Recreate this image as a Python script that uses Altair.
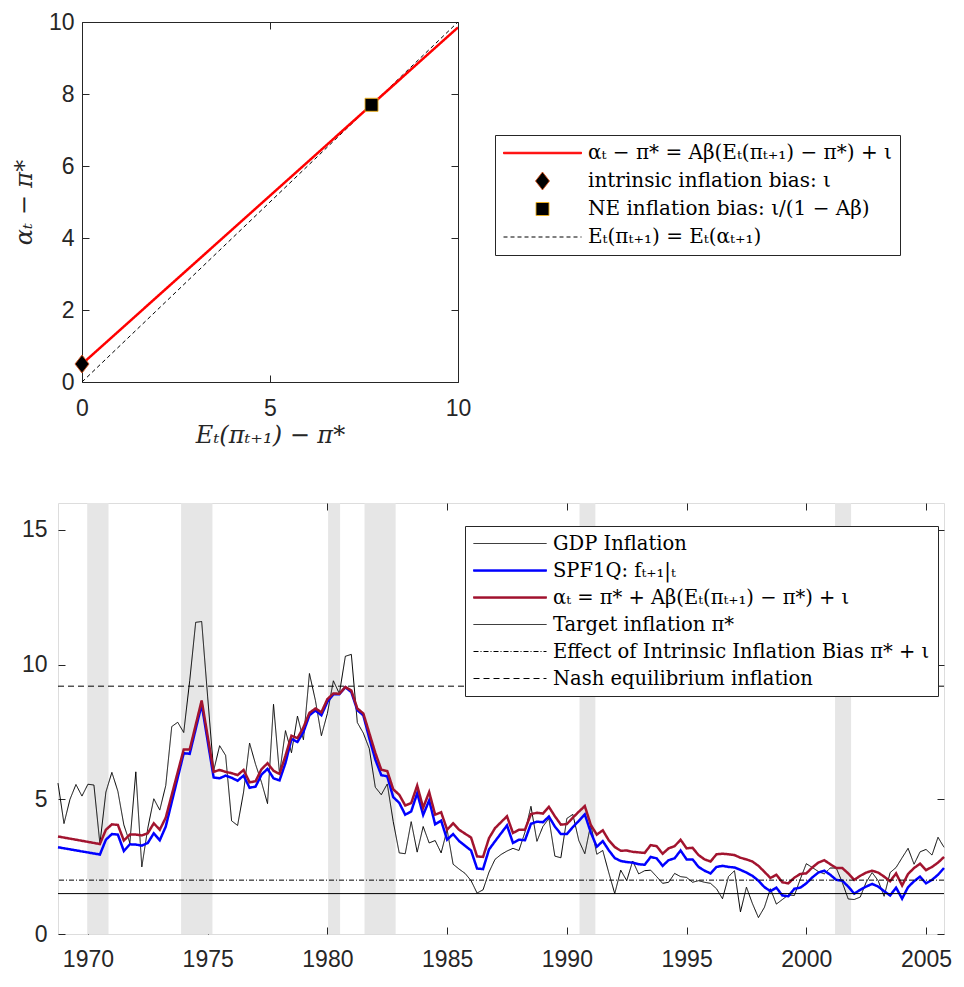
import altair as alt
import pandas as pd

# ---------------- top panel data ----------------
top_series = [
    "αₜ − π* = Aβ(Eₜ(πₜ₊₁) − π*) + ι",
    "intrinsic inflation bias: ι",
    "NE inflation bias: ι/(1 − Aβ)",
    "Eₜ(πₜ₊₁) = Eₜ(αₜ₊₁)",
]
bias_line_x = [0.0, 10.0]
bias_line_y = [0.5, 9.85]
diag_x = [0.0, 10.0]
diag_y = [0.0, 10.0]
marker_x = [0.0, 7.7]
marker_y = [0.5, 7.7]
top_x_ticks = [0, 5, 10]
top_y_ticks = [0, 2, 4, 6, 8, 10]

# ---------------- bottom panel data ----------------
bottom_series = [
    "GDP Inflation",
    "SPF1Q: fₜ₊₁|ₜ",
    "αₜ = π* + Aβ(Eₜ(πₜ₊₁) − π*) + ι",
    "Target inflation π*",
    "Effect of Intrinsic Inflation Bias π* + ι",
    "Nash equilibrium inflation",
]
gdp_start = 1968.75
gdp_values = [
    5.6,
    4.1, 5.0, 5.55, 5.12,       # 1969
    5.56, 5.53, 3.35, 5.27,     # 1970
    6.0, 5.3, 4.05, 3.38,       # 1971
    6.02, 2.49, 3.93, 5.02,     # 1972
    4.6, 5.51, 7.7, 7.86,       # 1973
    7.48, 9.4, 11.57, 11.6,     # 1974
    8.8, 6.06, 6.99, 6.63,      # 1975
    4.2, 4.03, 5.27, 7.09,      # 1976
    6.3, 5.63, 4.84, 8.53,      # 1977
    5.94, 7.55, 6.73, 8.09,     # 1978
    7.21, 9.67, 8.67, 7.36,     # 1979
    8.19, 9.40, 8.92, 10.31,    # 1980
    10.38, 7.85, 7.46, 6.88,    # 1981
    5.45, 5.17, 5.57, 4.17,     # 1982
    3.01, 2.98, 4.17, 3.04,     # 1983
    3.99, 3.38, 3.47, 3.01,     # 1984
    3.87, 2.59, 2.41, 2.25,     # 1985
    1.98, 1.52, 1.64, 2.3,      # 1986
    2.77, 2.95, 3.08, 3.18,     # 1987
    3.10, 3.78, 4.74, 3.44,     # 1988
    3.99, 4.29, 2.89, 2.83,     # 1989
    4.29, 4.44, 3.47, 2.98,     # 1990
    4.07, 2.96, 3.10, 2.28,     # 1991
    1.50, 2.37, 1.98, 2.71,     # 1992
    2.23, 2.35, 2.37, 2.13,     # 1993
    1.88, 1.92, 2.25, 2.13,     # 1994
    2.10, 1.92, 1.98, 1.92,     # 1995
    1.88, 1.68, 1.31, 2.13,     # 1996
    2.35, 0.82, 1.74, 1.13,     # 1997
    0.61, 0.99, 1.68, 1.11,     # 1998
    1.28, 1.45, 1.43, 2.04,     # 1999
    2.61, 2.47, 2.32, 2.23,     # 2000
    2.45, 2.45, 1.92, 1.3,      # 2001
    1.28, 1.37, 1.92, 2.28,     # 2002
    1.98, 1.40, 2.28, 2.47,     # 2003
    2.83, 3.18, 2.59, 3.05,     # 2004
    3.14, 2.93, 3.59, 3.22,     # 2005
]
gdp_dates = [gdp_start + 0.25 * i for i in range(len(gdp_values))]

spf_dates = [
    1968.75, 1970.5, 1970.75, 1971.0, 1971.25, 1971.5, 1971.75, 1972.0, 1972.25,
    1972.5, 1972.75, 1973.0, 1973.25, 1974.0, 1974.25, 1974.75, 1975.25, 1975.5,
    1975.75, 1976.0, 1976.25, 1976.5, 1976.75, 1977.0, 1977.25, 1977.5, 1977.75,
    1978.0, 1978.25, 1978.5, 1978.75, 1979.0, 1979.25, 1979.5, 1979.75, 1980.0,
    1980.25, 1980.5, 1980.75, 1981.0, 1981.25, 1981.5, 1981.75, 1982.0, 1982.25,
    1982.5, 1982.75, 1983.0, 1983.25, 1983.5, 1983.75, 1984.0, 1984.25, 1984.5,
    1984.75, 1985.0, 1985.25, 1985.5, 1986.0, 1986.25, 1986.5, 1986.75, 1987.0,
    1987.5, 1987.75, 1988.0, 1988.25, 1988.5, 1988.75, 1989.0, 1989.25, 1989.5,
    1989.75, 1990.0, 1990.25, 1990.5, 1990.75, 1991.0, 1991.25, 1991.5, 1991.75,
    1992.0, 1992.25, 1992.5, 1992.75, 1993.0, 1993.25, 1993.5, 1993.75, 1994.0,
    1994.25, 1994.5, 1994.75, 1995.0, 1995.25, 1995.5, 1995.75, 1996.0, 1996.25,
    1996.5, 1996.75, 1997.0, 1997.25, 1997.5, 1997.75, 1998.0, 1998.25, 1998.5,
    1998.75, 1999.0, 1999.25, 1999.5, 1999.75, 2000.0, 2000.25, 2000.5, 2000.75,
    2001.0, 2001.25, 2001.5, 2001.75, 2002.0, 2002.25, 2002.5, 2002.75, 2003.0,
    2003.25, 2003.5, 2003.75, 2004.0, 2004.25, 2004.5, 2004.75, 2005.0, 2005.25,
    2005.5, 2005.75,
]
spf_values = [
    3.22, 2.95, 3.50, 3.71, 3.69, 3.08, 3.33, 3.32, 3.28,
    3.38, 3.74, 3.48, 3.99, 6.71, 6.69, 8.52, 5.81, 5.78,
    5.88, 5.80, 5.69, 5.88, 5.43, 5.47, 5.92, 6.13, 5.78,
    5.70, 6.35, 7.24, 7.13, 7.50, 8.12, 8.30, 8.12, 8.62,
    8.90, 8.90, 9.16, 8.98, 8.31, 8.12, 7.27, 6.48, 5.90,
    5.85, 5.08, 4.87, 4.43, 4.55, 5.23, 4.42, 4.96, 4.07,
    4.21, 3.50, 3.71, 3.45, 3.10, 2.43, 2.41, 3.14, 3.44,
    4.03, 3.38, 3.50, 3.48, 4.09, 4.17, 4.15, 4.36, 3.99,
    3.71, 3.71, 3.97, 4.20, 4.44, 3.77, 3.24, 3.45, 3.11,
    2.82, 2.71, 2.67, 2.65, 2.59, 2.57, 2.86, 2.81, 2.53,
    2.74, 2.81, 3.10, 2.77, 2.77, 2.49, 2.35, 2.25, 2.49,
    2.53, 2.49, 2.47, 2.38, 2.28, 2.16, 1.98, 1.74, 1.59,
    1.72, 1.43, 1.40, 1.68, 1.72, 1.88, 2.10, 2.28, 2.35,
    2.20, 2.01, 1.98, 1.76, 1.50, 1.64, 1.76, 1.86, 1.76,
    1.59, 1.43, 1.72, 1.31, 1.74, 1.96, 2.13, 1.88, 2.01,
    2.20, 2.45,
]
alpha_values = [
    3.62, 3.34, 3.87, 4.07, 4.05, 3.47, 3.69, 3.69, 3.66,
    3.74, 4.11, 3.87, 4.32, 6.85, 6.85, 8.67, 6.02, 6.09,
    6.02, 5.97, 5.90, 6.09, 5.63, 5.67, 6.12, 6.34, 6.06,
    5.94, 6.62, 7.36, 7.27, 7.67, 8.21, 8.37, 8.23, 8.72,
    8.93, 8.92, 9.17, 9.04, 8.37, 8.19, 7.46, 6.73, 6.10,
    6.05, 5.37, 5.17, 4.77, 4.86, 5.51, 4.69, 5.27, 4.43,
    4.52, 3.87, 4.11, 3.87, 3.58, 2.88, 2.86, 3.56, 3.93,
    4.37, 3.75, 3.87, 3.87, 4.45, 4.50, 4.47, 4.72, 4.37,
    4.06, 4.08, 4.32, 4.54, 4.75, 4.05, 3.69, 3.85, 3.48,
    3.23, 3.09, 3.10, 3.05, 3.03, 3.01, 3.30, 3.26, 2.98,
    3.18, 3.26, 3.50, 3.18, 3.20, 2.93, 2.77, 2.69, 2.96,
    2.98, 2.96, 2.93, 2.83, 2.77, 2.69, 2.53, 2.31, 2.08,
    2.20, 1.92, 1.88, 2.09, 2.23, 2.25, 2.47, 2.65, 2.74,
    2.59, 2.45, 2.45, 2.25, 2.01, 2.16, 2.28, 2.35, 2.28,
    2.13, 1.96, 2.25, 1.80, 2.23, 2.45, 2.61, 2.37, 2.49,
    2.65, 2.86,
]
reference_levels = [1.5, 2.0, 9.2]
recession_start = [1969.97, 1973.89, 1980.03, 1981.55, 1990.53, 2001.2]
recession_end = [1970.86, 1975.2, 1980.53, 1982.85, 1991.19, 2001.87]
bottom_x_domain = [1968.75, 2005.75]
bottom_y_domain = [0, 16]
bottom_x_ticks = [1970, 1975, 1980, 1985, 1990, 1995, 2000, 2005]
bottom_y_ticks = [0, 5, 10, 15]

# ---------------- styling ----------------
INK = "#262626"
TICK_FONT = "Liberation Sans"
MATH_FONT = "DejaVu Serif"
TICK_FS = 23

# legend symbol paths (unit box, scaled by symbol size)
T_THICK = "M-1,-0.019L1,-0.019L1,0.019L-1,0.019Z"
T_DIAMOND = "M0,-0.23L0.18,0L0,0.23L-0.18,0Z"
T_SQUARE = "M-0.167,-0.167L0.167,-0.167L0.167,0.167L-0.167,0.167Z"
THIN = "M-1,0L1,0"
B_THICK = "M-1,-0.0205L1,-0.0205L1,0.0205L-1,0.0205Z"


def tick_axis(orient, ticks, offset=-7, labels=True, label_pad=8, title=None,
              title_pad=4, fmt=None):
    kw = dict(
        orient=orient, values=ticks, offset=offset, tickSize=7, tickWidth=1,
        tickColor=INK, domain=False, grid=False, labels=labels,
        labelFont=TICK_FONT, labelFontSize=TICK_FS, labelColor=INK,
        labelPadding=label_pad, labelFlush=False, labelOverlap=False,
    )
    if fmt:
        kw["format"] = fmt
    if title:
        kw.update(title=title, titleFont=MATH_FONT, titleFontSize=24,
                  titleFontStyle="italic", titleFontWeight="normal",
                  titleColor=INK, titlePadding=title_pad)
    else:
        kw["title"] = None
    return alt.Axis(**kw)


def frame_axis(orient, offset=0):
    return alt.Axis(orient=orient, offset=offset, domain=True, domainColor=INK,
                    domainWidth=1, ticks=False, labels=False, grid=False, title=None)


# ---------------- top panel ----------------
TOP_W, TOP_H = 400, 360
top_legend = alt.Legend(
    title=None, orient="none", legendX=437, legendY=113,
    fillColor="white", strokeColor=INK, padding=8, cornerRadius=0,
    labelFont=MATH_FONT, labelFontSize=20, labelColor="black", labelOffset=6,
    labelLimit=0, symbolSize=6084, symbolStrokeWidth=1, clipHeight=20, rowPadding=8,
)
t_stroke = alt.Stroke("series:N", scale=alt.Scale(domain=top_series, range=["#FF0000", "#D95319", "#EDB120", "#000000"]), legend=top_legend)
t_dash = alt.StrokeDash("series:N", scale=alt.Scale(domain=top_series, range=[[1, 0], [1, 0], [1, 0], [4, 3]]), legend=top_legend)
t_shape = alt.Shape("series:N", scale=alt.Scale(domain=top_series, range=[T_THICK, T_DIAMOND, T_SQUARE, THIN]), legend=top_legend)
t_fill = alt.Fill("series:N", scale=alt.Scale(domain=top_series, range=["#FF0000", "#000000", "#000000", "transparent"]), legend=top_legend)

tx = alt.Scale(domain=[0, 10], range=[24, TOP_W], nice=False, zero=False)
ty = alt.Scale(domain=[0, 10], nice=False, zero=False)

bias_df = pd.DataFrame({"x": bias_line_x, "y": bias_line_y, "series": top_series[0]})
diag_df = pd.DataFrame({"x": diag_x, "y": diag_y, "series": top_series[3]})
marker_df = pd.DataFrame({"x": marker_x, "y": marker_y, "series": top_series[1:3]})

frame_a = alt.Chart(diag_df).mark_line(opacity=0).encode(
    x=alt.X("x:Q", scale=tx, axis=frame_axis("top")),
    y=alt.Y("y:Q", scale=ty, axis=frame_axis("right")),
)
frame_b = alt.Chart(diag_df).mark_line(opacity=0).encode(
    x=alt.X("x:Q", scale=tx, axis=frame_axis("bottom")),
    y=alt.Y("y:Q", scale=ty, axis=frame_axis("left", offset=-24)),
)
top_diag = alt.Chart(diag_df).mark_line(strokeWidth=1, clip=True).encode(
    x=alt.X("x:Q", scale=tx, axis=tick_axis("top", top_x_ticks, labels=False)),
    y=alt.Y("y:Q", scale=ty, axis=tick_axis("right", top_y_ticks, labels=False)),
    stroke=t_stroke, strokeDash=t_dash,
)
top_bias = alt.Chart(bias_df).mark_line(strokeWidth=2.5, clip=True).encode(
    x=alt.X("x:Q", scale=tx, axis=tick_axis("bottom", top_x_ticks, label_pad=15,
                                              title="Eₜ(πₜ₊₁) − π*", title_pad=3)),
    y=alt.Y("y:Q", scale=ty, axis=tick_axis("left", top_y_ticks, offset=-31, label_pad=8,
                                              title="αₜ − π*", title_pad=12)),
    stroke=t_stroke, strokeDash=t_dash,
)
top_marks = alt.Chart(marker_df).mark_point(size=6084, opacity=1, strokeWidth=1, clip=False).encode(
    x=alt.X("x:Q", scale=tx, axis=None),
    y=alt.Y("y:Q", scale=ty, axis=None),
    shape=t_shape, fill=t_fill, stroke=t_stroke, strokeDash=t_dash,
)
top = alt.layer(frame_a, frame_b, top_diag, top_bias, top_marks).resolve_axis(
    x="independent", y="independent"
).properties(width=TOP_W, height=TOP_H, view=alt.ViewBackground(stroke=None))

# ---------------- bottom panel ----------------
BOT_W, BOT_H = 886, 431
bot_legend = alt.Legend(
    title=None, orient="none", legendX=407, legendY=23,
    fillColor="white", strokeColor=INK, padding=8, cornerRadius=0,
    labelFont=MATH_FONT, labelFontSize=19.5, labelColor="black", labelOffset=6,
    labelLimit=0, symbolSize=5329, symbolStrokeWidth=1, clipHeight=19, rowPadding=7,
)
b_colors = ["#000000", "#0000FF", "#A2142F", "#000000", "#000000", "#000000"]
b_stroke = alt.Stroke("series:N", scale=alt.Scale(domain=bottom_series, range=b_colors), legend=bot_legend)
b_dash = alt.StrokeDash("series:N", scale=alt.Scale(domain=bottom_series, range=[[1, 0], [1, 0], [1, 0], [1, 0], [5, 2, 1, 2], [6, 4]]), legend=bot_legend)
b_shape = alt.Shape("series:N", scale=alt.Scale(domain=bottom_series, range=[THIN, B_THICK, B_THICK, THIN, THIN, THIN]), legend=bot_legend)
b_fill = alt.Fill("series:N", scale=alt.Scale(domain=bottom_series, range=["transparent", "#0000FF", "#A2142F", "transparent", "transparent", "transparent"]), legend=bot_legend)

bx = alt.Scale(domain=bottom_x_domain, nice=False, zero=False)
by = alt.Scale(domain=bottom_y_domain, nice=False, zero=False)

rec_df = pd.DataFrame({"start": recession_start, "end": recession_end})
gdp_df = pd.DataFrame({"date": gdp_dates, "value": gdp_values, "series": bottom_series[0]})
spf_df = pd.DataFrame({"date": spf_dates, "value": spf_values, "series": bottom_series[1]})
alpha_df = pd.DataFrame({"date": spf_dates, "value": alpha_values, "series": bottom_series[2]})
ref_df = pd.DataFrame({"level": reference_levels, "series": bottom_series[3:]})

rec = alt.Chart(rec_df).mark_rect(fill="#E6E6E6").encode(
    x=alt.X("start:Q", scale=bx, axis=None), x2="end:Q"
)
gdp = alt.Chart(gdp_df).mark_line(strokeWidth=1).encode(
    x=alt.X("date:Q", scale=bx, axis=tick_axis("bottom", bottom_x_ticks, label_pad=14, fmt="d")),
    y=alt.Y("value:Q", scale=by, axis=tick_axis("left", bottom_y_ticks, label_pad=11)),
    stroke=b_stroke, strokeDash=b_dash,
)
spf = alt.Chart(spf_df).mark_line(strokeWidth=2.5).encode(
    x=alt.X("date:Q", scale=bx, axis=tick_axis("top", bottom_x_ticks, labels=False)),
    y=alt.Y("value:Q", scale=by, axis=tick_axis("right", bottom_y_ticks, labels=False)),
    stroke=b_stroke, strokeDash=b_dash,
)
alpha = alt.Chart(alpha_df).mark_line(strokeWidth=2.5).encode(
    x=alt.X("date:Q", scale=bx, axis=None),
    y=alt.Y("value:Q", scale=by, axis=None),
    stroke=b_stroke, strokeDash=b_dash,
)
refs = alt.Chart(ref_df).mark_rule(strokeWidth=1).encode(
    y=alt.Y("level:Q", scale=by, axis=None),
    stroke=b_stroke, strokeDash=b_dash,
)
legend_keys = alt.Chart(ref_df).transform_filter("false").mark_point(opacity=1, strokeWidth=1).encode(
    shape=b_shape, fill=b_fill, stroke=b_stroke, strokeDash=b_dash,
)
bottom = alt.layer(rec, gdp, spf, alpha, refs, legend_keys).resolve_axis(
    x="independent", y="independent"
).properties(width=BOT_W, height=BOT_H)

chart = alt.vconcat(top, bottom, spacing=55).resolve_scale(
    stroke="independent", strokeDash="independent", shape="independent",
    fill="independent", x="independent", y="independent",
).resolve_legend(
    stroke="independent", strokeDash="independent", shape="independent", fill="independent"
).properties(
    padding={"left": 4, "top": 3, "right": 0, "bottom": 0}
).configure_view(stroke=INK, strokeWidth=1).configure(background="white")

chart.save("out.html", embed_options={"renderer": "svg", "actions": False})
